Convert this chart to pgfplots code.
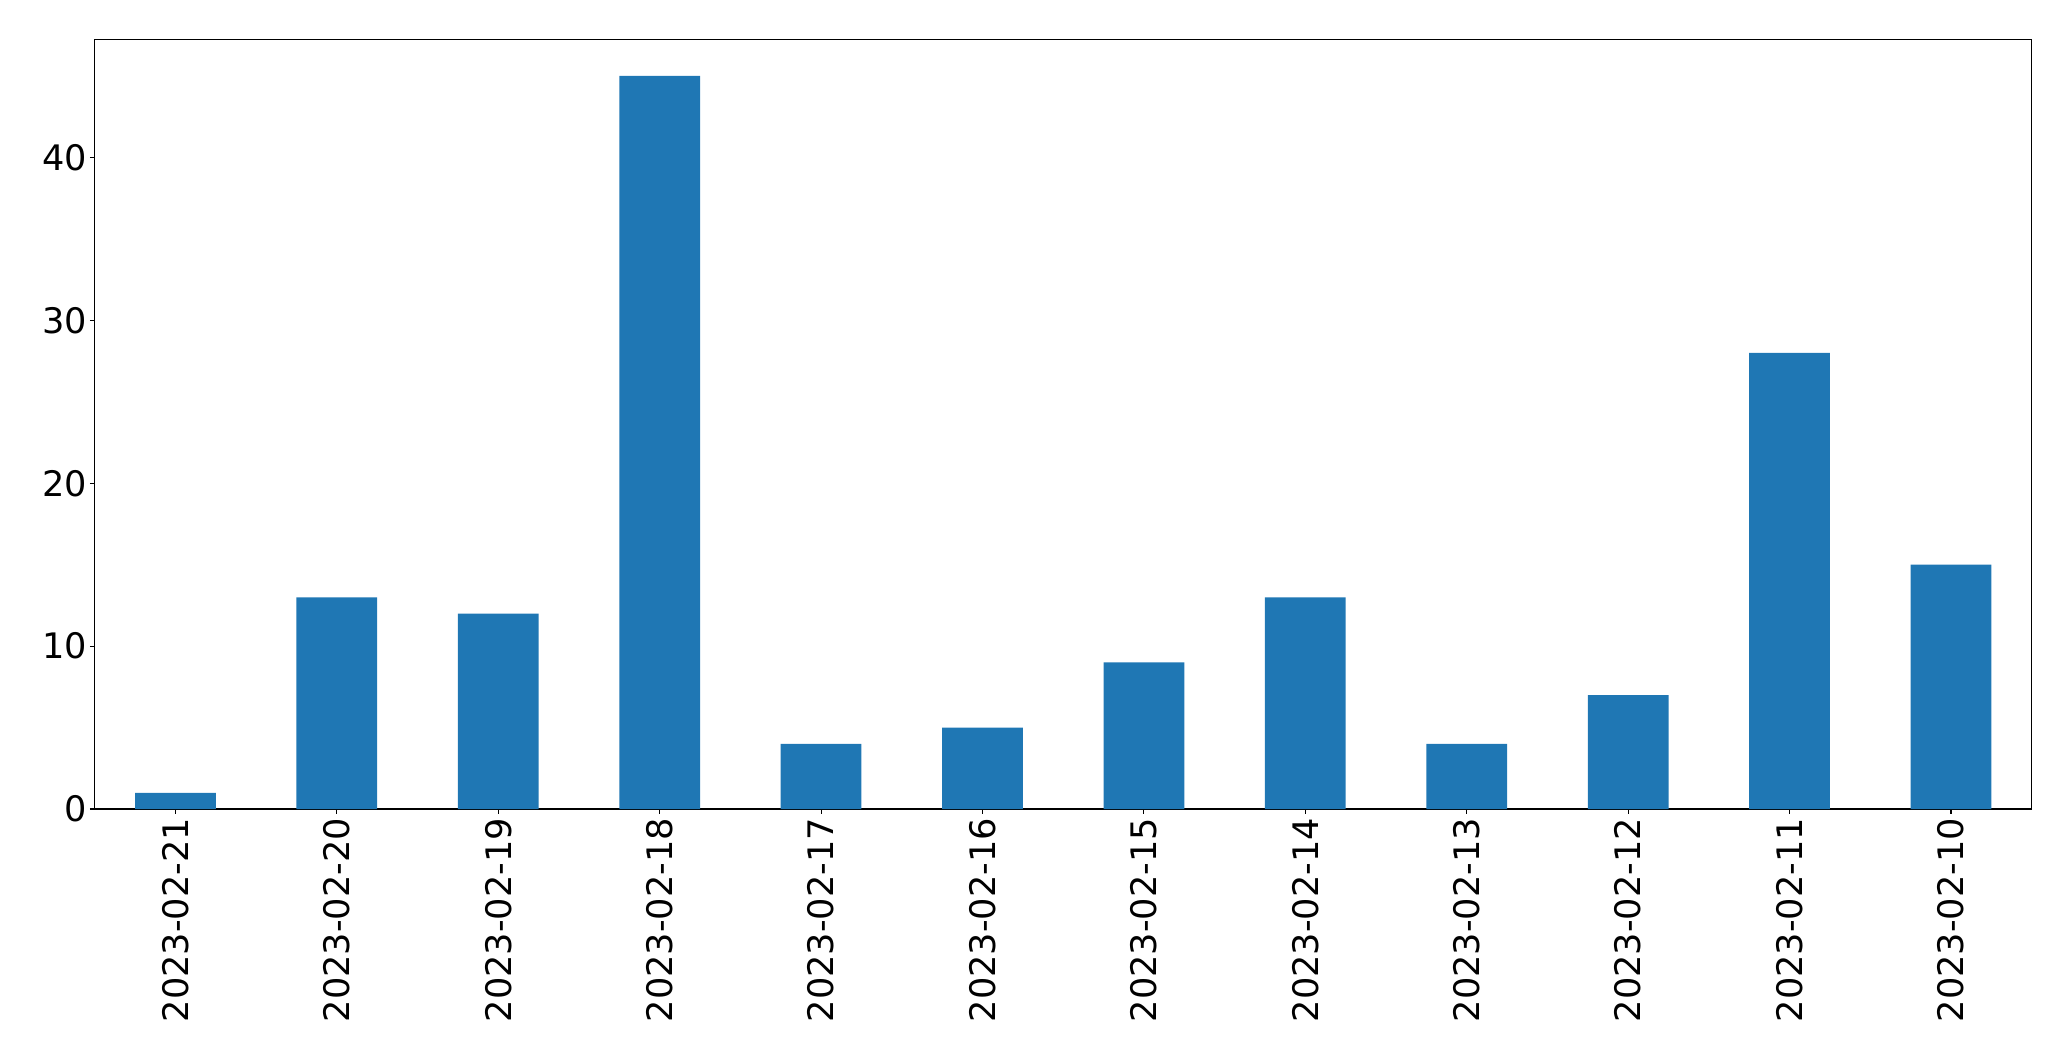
\documentclass[border=0pt]{standalone}
\usepackage{fontspec}
\setmainfont{DejaVu Sans}
\usepackage{pgfplots}
\pgfplotsset{compat=1.18}
\definecolor{mplblue}{HTML}{1F77B4}
\begin{document}
\begin{tikzpicture}
\useasboundingbox (-68.2pt,-181.4pt) rectangle (1422.9pt,582.5pt);
\begin{axis}[
  at={(0pt,0pt)}, anchor=south west,
  scale only axis,
  width=1394.6pt, height=554.2pt,
  xmin=-0.5, xmax=11.5,
  ymin=0, ymax=47.25,
  xtick={0,...,11},
  xticklabels={2023-02-21,2023-02-20,2023-02-19,2023-02-18,2023-02-17,2023-02-16,2023-02-15,2023-02-14,2023-02-13,2023-02-12,2023-02-11,2023-02-10},
  ytick={0,10,20,30,40},
  tick align=outside,
  tick pos=left,
  major tick length=3.4pt,
  every tick/.style={black, line width=0.8pt},
  axis line style={line width=0.8pt},
  /pgf/number format/assume math mode=true,
  tick label style={font=\fontsize{25.3}{30}\selectfont},
  xticklabel style={yshift=-2.9pt, rotate=90, anchor=east, inner sep=0pt},
  yticklabel style={anchor=east, inner sep=0pt, xshift=-1.8pt},
  ybar, bar width=0.5,
]
\addplot[fill=mplblue, draw=none] coordinates {
(0,1) (1,13) (2,12) (3,45) (4,4) (5,5) (6,9) (7,13) (8,4) (9,7) (10,28) (11,15)
};
\end{axis}
\end{tikzpicture}
\end{document}
